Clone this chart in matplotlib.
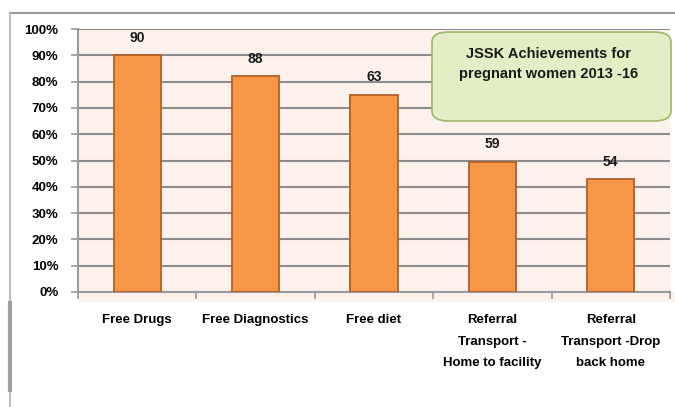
import matplotlib.pyplot as plt
from matplotlib.patches import FancyBboxPatch, Rectangle
from matplotlib.lines import Line2D
from matplotlib.ticker import PercentFormatter

# chart data
categories = ['Free Drugs', 'Free Diagnostics', 'Free diet',
              'Referral\nTransport -\nHome to facility',
              'Referral\nTransport -Drop\nback home']
heights = [90, 82, 75, 49.5, 43]
labels = ['90', '88', '63', '59', '54']
yticks = [0, 10, 20, 30, 40, 50, 60, 70, 80, 90, 100]
title = 'JSSK Achievements for\npregnant women 2013 -16'

plt.rcParams['font.family'] = ['Liberation Sans', 'DejaVu Sans']
W, H = 675, 407

fig = plt.figure(figsize=(W / 100, H / 100), dpi=100)
fig.patch.set_facecolor('white')

# outer frame of the pasted chart
fig.add_artist(Line2D([10 / W, 1], [1 - 13 / H, 1 - 13 / H], color='#9a9a9a', lw=1.5))
fig.add_artist(Line2D([10 / W, 10 / W], [0, 1 - 13 / H], color='#b0b0b0', lw=1.2))
fig.add_artist(Line2D([10 / W, 10 / W], [1 - 390 / H, 1 - 303 / H], color='#a0a0a0', lw=3))

# plot area background strip below the axis
fig.add_artist(Rectangle((78 / W, 1 - 302 / H), (675 - 78) / W, 10 / H,
                         transform=fig.transFigure, facecolor='#fdf1ec', edgecolor='none', zorder=0))

ax = fig.add_axes([78 / W, 1 - 292 / H, (670 - 78) / W, (292 - 29) / H])
ax.set_facecolor('#fdf1ec')

x = range(len(categories))
ax.bar(x, heights, width=0.4, color='#f79646', edgecolor='#b0602a', linewidth=1.3, zorder=3)

for i, (h, lab) in enumerate(zip(heights, labels)):
    ax.annotate(lab, (i, h), xytext=(0, 12.5), textcoords='offset points',
                ha='center', va='center', fontsize=10, fontweight='bold', color='#1a1a1a')

ax.set_ylim(0, 100)
ax.set_xlim(-0.5, len(categories) - 0.5)
ax.set_yticks(yticks)
ax.yaxis.set_major_formatter(PercentFormatter(decimals=0))
ax.grid(axis='y', color='#8c8c8c', lw=1.5, zorder=1)

ax.set_xticks(x)
ax.set_xticklabels(categories, fontsize=9.5, fontweight='bold', linespacing=2.05, va='top')
ax.tick_params(axis='x', length=0, pad=16)
ax.set_xticks([i - 0.5 for i in range(len(categories) + 1)], minor=True)
ax.tick_params(axis='x', which='minor', length=5, color='#9a9a9a', width=1.2)
ax.tick_params(axis='y', length=5, color='#9a9a9a', width=1.2, labelsize=9.5, pad=9)
for t in ax.get_yticklabels():
    t.set_fontweight('bold')

for s in ['top', 'right']:
    ax.spines[s].set_visible(False)
ax.spines['left'].set_color('#9a9a9a')
ax.spines['bottom'].set_color('#9a9a9a')
ax.spines['left'].set_linewidth(1.5)
ax.spines['bottom'].set_linewidth(1.5)

# title callout box
box = FancyBboxPatch((432 / W, 1 - 121 / H), (671 - 432) / W, (121 - 32) / H,
                     boxstyle='round,pad=0,rounding_size=0.025',
                     transform=fig.transFigure, facecolor='#e3eec4',
                     edgecolor='#9fb56a', linewidth=1.2, zorder=5)
fig.add_artist(box)
fig.text(549 / W, 1 - 64 / H, title, ha='center', va='center', fontsize=10.5,
         fontweight='bold', linespacing=1.6, color='#1a1a1a', zorder=6)

fig.savefig('out.png', dpi=100)
